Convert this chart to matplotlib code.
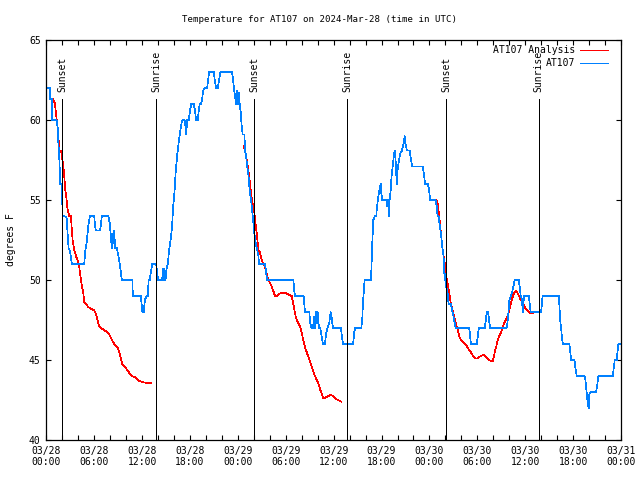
import numpy as np
import pandas as pd
import matplotlib
matplotlib.use("Agg")
import matplotlib.pyplot as plt
import matplotlib.dates as mdates

plt.rcParams['font.family'] = ['DejaVu Sans Mono']
plt.rcParams['font.size'] = 7

t0 = pd.Timestamp("2024-03-28 00:00")

# observaciones AT107 (horas desde 03/28 00:00, grados F)
obs_h = [0.0, 0.46, 0.48, 0.71, 0.73, 1.29, 1.34, 1.46, 1.50, 1.63, 1.75, 1.96, 2.04, 2.25,
         2.54, 2.79, 2.96, 3.08, 3.21, 4.75, 4.88, 5.04, 5.17, 5.29, 5.46, 6.0, 6.08, 6.21,
         6.75, 6.96, 7.79, 7.96, 8.13, 8.21, 8.29, 8.42, 8.50, 8.63, 8.83, 9.04, 9.21, 9.46,
         10.8, 10.83, 11.83, 12.04, 12.21, 12.35, 12.56, 12.73, 12.81, 12.98, 13.06, 13.15,
         13.27, 13.77, 13.90, 14.02, 14.52, 14.6, 14.73, 14.81, 14.94, 15.06, 15.23, 15.35,
         15.48, 15.65, 15.77, 15.9, 16.06, 16.19, 16.31, 16.4, 16.52, 16.65, 16.81, 16.94,
         17.06, 17.31, 17.4, 17.52, 17.65, 17.85, 17.98, 18.15, 18.48, 18.65, 18.77, 18.98,
         19.1, 19.23, 19.4, 19.52, 19.65, 19.81, 20.15, 20.27, 20.4, 20.98, 21.1, 21.27,
         21.48, 21.65, 21.81, 23.27, 23.4, 23.56, 23.69, 23.77, 23.9, 24.02, 24.15, 24.23,
         24.35, 24.48, 24.6, 24.82, 24.91, 25.03, 25.12, 25.32, 25.49, 25.66, 25.74, 25.87,
         25.95, 26.07, 26.2, 26.37, 26.57, 26.66, 27.41, 27.53, 27.66, 30.95, 31.07, 31.16,
         32.24, 32.41, 32.95, 33.07, 33.24, 33.41, 33.57, 33.66, 33.78, 33.91, 33.99, 34.16,
         34.32, 34.49, 34.66, 34.91, 35.07, 35.24, 35.45, 35.62, 35.74, 35.91, 36.91, 37.09,
         37.18, 38.43, 38.6, 38.72, 39.47, 39.6, 39.66, 39.76, 39.88, 40.68, 40.76, 40.84,
         40.97, 41.18, 41.34, 41.43, 41.55, 41.68, 41.76, 41.89, 41.97, 42.09, 42.59, 42.72,
         42.84, 42.93, 43.01, 43.14, 43.26, 43.43, 43.55, 43.64, 43.76, 43.84, 43.93, 44.01,
         44.14, 44.26, 44.39, 44.51, 44.64, 44.8, 44.89, 45.01, 45.18, 45.51, 45.64, 45.84,
         47.18, 47.3, 47.47, 47.8, 47.93, 48.09, 48.76, 48.93, 49.01, 49.14, 49.27, 49.44,
         49.6, 49.77, 49.85, 49.94, 50.02, 50.1, 50.27, 50.4, 50.69, 50.9, 51.1, 51.27,
         52.98, 53.1, 53.19, 53.94, 54.06, 54.19, 54.94, 55.06, 55.19, 55.35, 55.48, 55.6,
         57.65, 57.77, 57.9, 58.02, 58.19, 58.35, 58.52, 58.69, 59.19, 59.31, 59.44, 59.6,
         59.69, 59.77, 59.85, 60.44, 60.56, 60.69, 62.0, 62.12, 62.2, 64.2, 64.29, 64.37,
         64.5, 64.58, 64.71, 65.54, 65.67, 65.75, 66.17, 66.29, 66.46, 67.42, 67.54, 67.71,
         67.83, 67.96, 68.04, 68.21, 68.87, 69.04, 69.17, 70.96, 71.12, 71.21, 71.46, 71.54,
         71.67, 72.0]
obs_t = [62.0, 62.0, 61.3, 61.3, 60.0, 60.0, 59.8, 59.4, 58.65, 57.6, 56.0, 56.0, 54.0, 54.0,
         53.9, 52.0, 51.8, 51.4, 51.0, 51.0, 51.8, 52.3, 52.9, 53.5, 54.0, 54.0, 53.5, 53.1,
         53.1, 54.0, 54.0, 53.5, 52.5, 52.0, 52.9, 52.3, 53.1, 52.0, 52.0, 51.5, 51.0, 50.0,
         50.0, 49.0, 49.0, 48.0, 48.0, 48.75, 49.0, 49.0, 50.0, 50.0, 50.4, 50.6,
         51.0, 51.0, 50.4, 50.0, 50.0, 50.7, 50.0, 50.7, 50.0, 50.7, 51.0, 51.7,
         52.2, 52.8, 53.5, 54.6, 55.5, 56.6, 57.3, 57.8, 58.3, 58.85, 59.4, 59.8,
         60.0, 60.0, 59.8, 59.1, 60.0, 60.0, 60.5, 61.0, 61.0, 60.5, 60.0, 60.0,
         60.6, 61.0, 61.0, 61.3, 61.8, 62.0, 62.0, 62.5, 63.0, 63.0, 62.5, 62.0,
         62.0, 62.5, 63.0, 63.0, 62.5, 61.8, 61.3, 61.0, 61.8, 61.0, 61.7, 61.0,
         60.5, 59.6, 59.1, 59.1, 58.0, 57.8, 57.3, 56.6, 55.5, 55.0, 54.6, 54.0,
         53.5, 52.9, 52.4, 52.0, 51.5, 51.0, 51.0, 50.5, 50.0, 50.0, 49.3, 49.0,
         49.0, 48.0, 48.0, 47.3, 47.0, 47.0, 47.7, 47.0, 48.0, 47.3, 48.0, 47.0,
         47.0, 46.5, 46.0, 46.0, 46.7, 47.0, 47.3, 48.0, 47.7, 47.0, 47.0, 46.25,
         46.0, 46.0, 46.8, 47.0, 47.0, 47.7, 48.5, 49.2, 50.0, 50.0, 51.2, 52.3,
         53.75, 54.0, 54.0, 54.6, 55.0, 55.5, 55.7, 56.0, 55.4, 55.0, 55.0, 54.6,
         55.0, 54.0, 55.0, 55.6, 56.5, 57.3, 57.8, 58.1, 57.5, 56.6, 56.0, 56.9,
         57.3, 57.7, 58.0, 58.0, 58.3, 58.6, 59.0, 58.5, 58.1, 58.1, 57.7, 57.1,
         57.1, 56.6, 56.0, 56.0, 55.7, 55.0, 55.0, 54.6, 54.0, 54.0, 53.5, 52.9,
         52.1, 51.5, 50.5, 50.0, 50.4, 49.6, 49.2, 48.5, 48.5, 48.0, 47.5, 47.0,
         47.0, 46.5, 46.0, 46.0, 46.5, 47.0, 47.0, 47.5, 48.0, 48.0, 47.5, 47.0,
         47.0, 47.3, 48.0, 48.75, 49.0, 49.2, 49.6, 50.0, 50.0, 49.6, 49.0, 48.75,
         48.0, 48.5, 49.0, 49.0, 48.5, 48.0, 48.0, 48.75, 49.0, 49.0, 48.4, 47.5,
         47.0, 46.5, 46.0, 46.0, 45.4, 45.0, 45.0, 44.5, 44.0, 44.0, 43.75, 42.9,
         42.3, 42.0, 42.9, 43.0, 43.0, 43.5, 44.0, 44.0, 44.6, 45.0, 45.0, 45.4,
         46.0, 46.0]

# analisis AT107 (tres tramos, separados por NaN)
ana_h = [0.88, 1.09, 1.21, 1.34, 1.46, 1.54, 1.63, 1.84, 1.96, 2.13, 2.25, 2.38, 2.46, 2.54,
         2.67, 2.88, 3.08, 3.29, 3.5, 3.71, 3.92, 4.13, 4.34, 4.46, 4.63, 4.75, 4.96, 5.29,
         5.59, 6.0, 6.21, 6.42, 6.63, 6.84, 7.46, 7.88, 8.09, 8.5, 8.92, 9.13, 9.55, 9.96,
         10.38, 10.71, 11.21, 11.63, 12.25, 12.73, 13.1, np.nan,
         24.7, 25.03, 25.24, 25.41, 25.66, 25.82, 25.99, 26.16, 26.37, 26.57, 26.78, 26.99,
         27.2, 27.41, 27.62, 27.82, 28.03, 28.24, 28.45, 28.66, 28.87, 29.07, 29.49, 29.91,
         30.32, 30.74, 30.95, 31.16, 31.37, 31.57, 31.78, 31.99, 32.2, 32.41, 32.62, 32.82,
         33.03, 33.24, 33.45, 33.66, 33.87, 34.07, 34.28, 34.49, 34.7, 34.91, 35.12, 35.32,
         35.53, 35.74, 35.95, 36.16, 36.37, 36.57, 36.78, 36.97, np.nan,
         48.86, 49.02, 49.23, 49.44, 49.6, 49.77, 49.94, 50.1, 50.27, 50.48, 50.69, 50.9,
         51.1, 51.31, 51.52, 51.73, 51.94, 52.15, 52.35, 52.56, 52.77, 52.98, 53.19, 53.4,
         53.6, 53.81, 54.02, 54.23, 54.44, 54.65, 54.85, 55.06, 55.27, 55.48, 55.69, 55.9,
         56.02, 56.19, 56.35, 56.52, 56.73, 56.94, 57.15, 57.35, 57.56, 57.77, 57.98, 58.19,
         58.4, 58.6, 58.81, 59.02, 59.23, 59.44, 59.65, 59.85, 60.06, 60.27, 60.48, 60.69,
         60.95]
ana_t = [61.3, 61.0, 60.4, 59.8, 59.4, 58.75, 58.1, 58.1, 57.7, 57.1, 56.5, 55.6, 55.4, 55.0,
         54.4, 54.0, 54.0, 52.5, 51.9, 51.5, 51.25, 50.8, 50.0, 49.6, 49.2, 48.6, 48.5, 48.3,
         48.2, 48.1, 47.9, 47.5, 47.1, 47.0, 46.8, 46.6, 46.4, 46.0, 45.8, 45.5, 44.7, 44.5,
         44.2, 44.0, 43.9, 43.7, 43.6, 43.55, 43.55, np.nan,
         58.4, 57.8, 57.1, 56.5, 55.4, 54.8, 54.6, 53.75, 52.9, 51.9, 51.7, 51.25,
         51.0, 50.8, 50.4, 50.0, 49.8, 49.6, 49.3, 49.0, 49.0, 49.1, 49.2, 49.2,
         49.1, 49.0, 48.5, 47.9, 47.5, 47.3, 47.1, 46.7, 46.25, 45.8, 45.5, 45.2,
         44.9, 44.6, 44.3, 44.0, 43.75, 43.55, 43.2, 42.9, 42.6, 42.6, 42.7, 42.75,
         42.8, 42.8, 42.75, 42.65, 42.55, 42.5, 42.45, 42.4, np.nan,
         55.0, 54.8, 54.0, 52.9, 52.1, 51.5, 51.0, 50.2, 49.8, 49.2, 48.5, 48.1,
         47.7, 47.3, 46.9, 46.5, 46.25, 46.15, 46.05, 45.95, 45.8, 45.6, 45.5, 45.3,
         45.2, 45.1, 45.1, 45.2, 45.25, 45.3, 45.3, 45.2, 45.1, 45.0, 44.95, 44.9,
         45.1, 45.5, 45.8, 46.15, 46.5, 46.7, 47.0, 47.3, 47.5, 47.7, 48.1, 48.5,
         48.9, 49.2, 49.3, 49.2, 49.0, 48.75, 48.6, 48.4, 48.2, 48.1, 48.0, 47.9,
         47.9]

sunset_h = [2.0, 26.03, 50.06]
sunrise_h = [13.77, 37.7, 61.7]


def to_time(h):
    return t0 + pd.to_timedelta(np.asarray(h, dtype=float), unit='h')


fig = plt.figure(figsize=(6.4, 4.8), dpi=100)
ax = fig.add_axes([46.3 / 640, 40 / 480, 574.7 / 640, 400 / 480])

ax.plot(to_time(ana_h), ana_t, color='#ff0000', lw=0.5, antialiased=False)
ax.plot(to_time(obs_h), obs_t, color='#0080ff', lw=0.5, antialiased=False)

for hs, name in [(sunset_h, 'Sunset'), (sunrise_h, 'Sunrise')]:
    for h in hs:
        x = to_time([h])[0]
        ax.plot([x, x], [40, 61.3], color='black', lw=0.72, antialiased=False)
        ax.text(x, 61.75, name, rotation=90, ha='center', va='bottom')

ax.set_xlim(t0, t0 + pd.Timedelta(hours=72))
ax.set_ylim(40, 65)
ax.set_yticks([40, 45, 50, 55, 60, 65])
ax.xaxis.set_major_locator(mdates.HourLocator(byhour=range(0, 24, 6)))
ax.xaxis.set_minor_locator(mdates.HourLocator(byhour=range(0, 24, 2)))
ax.xaxis.set_major_formatter(mdates.DateFormatter('%m/%d\n%H:%M'))
ax.tick_params(which='both', direction='in', top=True, right=True, length=3.5, width=0.8)
ax.tick_params(axis='x', pad=4)
ax.tick_params(axis='y', pad=4)
for s in ax.spines.values():
    s.set_linewidth(0.9)

ax.set_ylabel('degrees F', labelpad=9)

# leyenda manual
ax.text(0.92, 0.975, 'AT107 Analysis', transform=ax.transAxes, ha='right', va='center')
ax.plot([0.928, 0.978], [0.975, 0.975], transform=ax.transAxes, color='#ff0000',
        lw=0.72, antialiased=False)
ax.text(0.92, 0.9425, 'AT107', transform=ax.transAxes, ha='right', va='center')
ax.plot([0.928, 0.978], [0.9425, 0.9425], transform=ax.transAxes, color='#0080ff',
        lw=0.72, antialiased=False)

fig.text(0.5, 1 - 20 / 480, 'Temperature for AT107 on 2024-Mar-28 (time in UTC)',
         ha='center', va='center', fontsize=6.6)

fig.savefig('out.png', dpi=100)
